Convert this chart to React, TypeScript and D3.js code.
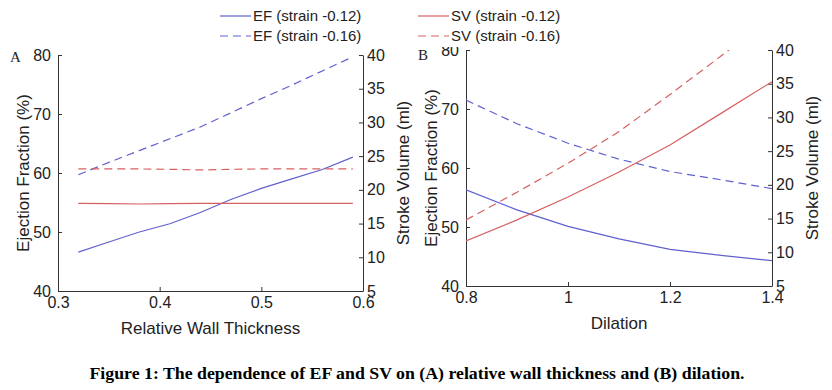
import { useEffect, useRef } from "react";
import * as d3 from "d3";

// panel A: relative wall thickness
const rwt = [0.32, 0.35, 0.38, 0.41, 0.44, 0.47, 0.5, 0.53, 0.56, 0.59];
const efA12 = [46.6, 48.3, 50.0, 51.4, 53.3, 55.5, 57.4, 59.0, 60.6, 62.7];
const efA16 = [59.7, 61.8, 63.8, 65.8, 67.8, 70.2, 72.6, 74.9, 77.3, 79.7];
const svA12 = [18.0, 17.95, 17.9, 17.95, 18.0, 18.0, 18.0, 18.0, 18.0, 18.0];
const svA16 = [23.1, 23.1, 23.1, 23.05, 22.95, 23.05, 23.1, 23.1, 23.1, 23.1];

// panel B: dilation
const dilation = [0.8, 0.9, 1.0, 1.1, 1.2, 1.3, 1.4];
const efB12 = [56.3, 52.9, 50.1, 48.0, 46.2, 45.2, 44.3];
const efB16 = [71.5, 67.5, 64.2, 61.5, 59.4, 58.0, 56.5];
const svB12 = [11.7, 14.8, 18.2, 21.9, 25.9, 30.6, 35.3];
const svB16 = [14.8, 18.9, 23.2, 27.9, 33.4, 39.1, 45.0];

const xTicksA = [0.3, 0.4, 0.5, 0.6];
const xTicksB = [0.8, 1, 1.2, 1.4];
const efTicks = [40, 50, 60, 70, 80];
const svTicks = [5, 10, 15, 20, 25, 30, 35, 40];

const BLUE = "#6060cf";
const RED = "#d66060";
const AXIS = "#333";
const FONT = "'Liberation Sans', Arial, sans-serif";

const legendItems = [
  { label: "EF (strain -0.12)", color: BLUE, dash: null },
  { label: "EF (strain -0.16)", color: BLUE, dash: "8,5" },
  { label: "SV (strain -0.12)", color: RED, dash: null },
  { label: "SV (strain -0.16)", color: RED, dash: "8,5" },
];

const drawPanel = (
  svg: d3.Selection<SVGSVGElement, unknown, null, undefined>,
  opts: {
    id: string;
    left: number;
    top: number;
    width: number;
    height: number;
    xDomain: [number, number];
    xTicks: number[];
    xFormat: (d: number) => string;
    xs: number[];
    ef12: number[];
    ef16: number[];
    sv12: number[];
    sv16: number[];
    xTitle: string;
    letter: string;
    letterDy: number;
  }
) => {
  const { left, top, width, height } = opts;
  const x = d3.scaleLinear().domain(opts.xDomain).range([left, left + width]);
  const yL = d3.scaleLinear().domain([40, 80]).range([top + height, top]);
  const yR = d3.scaleLinear().domain([5, 40]).range([top + height, top]);

  svg
    .append("clipPath")
    .attr("id", opts.id)
    .append("rect")
    .attr("x", left)
    .attr("y", top)
    .attr("width", width)
    .attr("height", height);

  const styleAxis = (g: any) => {
    g.selectAll("path").attr("stroke", AXIS).attr("stroke-width", 1);
    g.selectAll("line").attr("stroke", AXIS);
    g.selectAll("text")
      .attr("fill", "#222")
      .style("font-family", FONT)
      .style("font-size", "16px");
  };

  svg
    .append("g")
    .attr("transform", `translate(0 ${top + height})`)
    .call(
      d3.axisBottom(x).tickValues(opts.xTicks).tickFormat(opts.xFormat as any).tickSizeInner(-4).tickSizeOuter(0).tickPadding(6)
    )
    .call(styleAxis);

  svg
    .append("g")
    .attr("transform", `translate(${left} 0)`)
    .call(d3.axisLeft(yL).tickValues(efTicks).tickSizeInner(-4).tickSizeOuter(0).tickPadding(7))
    .call(styleAxis);

  svg
    .append("g")
    .attr("transform", `translate(${left + width} 0)`)
    .call(d3.axisRight(yR).tickValues(svTicks).tickSizeInner(-4).tickSizeOuter(0).tickPadding(4))
    .call(styleAxis);

  const plot = svg.append("g").attr("clip-path", `url(#${opts.id})`);
  const series = [
    { vals: opts.ef12, y: yL, color: BLUE, dash: null },
    { vals: opts.ef16, y: yL, color: BLUE, dash: "8,5" },
    { vals: opts.sv12, y: yR, color: RED, dash: null },
    { vals: opts.sv16, y: yR, color: RED, dash: "8,5" },
  ];
  series.forEach((s) => {
    const line = d3
      .line<number>()
      .x((_, i) => x(opts.xs[i]))
      .y((d) => s.y(d));
    plot
      .append("path")
      .attr("d", line(s.vals))
      .attr("fill", "none")
      .attr("stroke", s.color)
      .attr("stroke-width", 1.2)
      .attr("stroke-dasharray", s.dash);
  });

  svg
    .append("text")
    .text(opts.xTitle)
    .attr("x", left + width / 2)
    .attr("y", top + height + 43)
    .attr("text-anchor", "middle")
    .attr("fill", "#222")
    .style("font-family", FONT)
    .style("font-size", "17px");

  svg
    .append("text")
    .text("Ejection Fraction (%)")
    .attr("transform", `translate(${left - 29} ${top + height / 2}) rotate(-90)`)
    .attr("text-anchor", "middle")
    .attr("fill", "#222")
    .style("font-family", FONT)
    .style("font-size", "17px");

  svg
    .append("text")
    .text("Stroke Volume (ml)")
    .attr("transform", `translate(${left + width + 46} ${top + height / 2}) rotate(-90)`)
    .attr("text-anchor", "middle")
    .attr("fill", "#222")
    .style("font-family", FONT)
    .style("font-size", "17px");

  svg
    .append("text")
    .text(opts.letter)
    .attr("x", left - 48)
    .attr("y", top + opts.letterDy)
    .attr("fill", "#222")
    .style("font-family", "'Liberation Serif', 'Times New Roman', serif")
    .style("font-size", "15px");
};

const buildChart = (ref: SVGSVGElement) => {
  const svg = d3.select(ref);
  svg.selectAll("*").remove();

  drawPanel(svg, {
    id: "clipA",
    left: 58,
    top: 55,
    width: 305,
    height: 236,
    xDomain: [0.3, 0.6],
    xTicks: xTicksA,
    xFormat: d3.format(".1f"),
    xs: rwt,
    ef12: efA12,
    ef16: efA16,
    sv12: svA12,
    sv16: svA16,
    xTitle: "Relative Wall Thickness",
    letter: "A",
    letterDy: 7,
  });

  drawPanel(svg, {
    id: "clipB",
    left: 466,
    top: 50,
    width: 306,
    height: 236,
    xDomain: [0.8, 1.4],
    xTicks: xTicksB,
    xFormat: (d: number) => (d === 1 ? "1" : d3.format(".1f")(d)),
    xs: dilation,
    ef12: efB12,
    ef16: efB16,
    sv12: svB12,
    sv16: svB16,
    xTitle: "Dilation",
    letter: "B",
    letterDy: 10,
  });

  // legend box sits on top and hides the top of panel B's "80"
  const legend = svg.append("g");
  legend
    .append("rect")
    .attr("x", 212)
    .attr("y", 0)
    .attr("width", 196)
    .attr("height", 46)
    .attr("fill", "white");
  legend
    .append("rect")
    .attr("x", 408)
    .attr("y", 0)
    .attr("width", 157)
    .attr("height", 47)
    .attr("fill", "white");

  legendItems.forEach((item, i) => {
    const col = Math.floor(i / 2);
    const row = i % 2;
    const x0 = col === 0 ? 220 : 418;
    const y0 = 16 + row * 20;
    legend
      .append("line")
      .attr("x1", x0)
      .attr("x2", x0 + 31)
      .attr("y1", y0)
      .attr("y2", y0)
      .attr("stroke", item.color)
      .attr("stroke-width", 1.2)
      .attr("stroke-dasharray", item.dash);
    legend
      .append("text")
      .text(item.label)
      .attr("x", x0 + 33)
      .attr("y", y0 + 5)
      .attr("fill", "#222")
      .style("font-family", FONT)
      .style("font-size", "15px");
  });

  svg
    .append("text")
    .text("Figure 1: The dependence of EF and SV on (A) relative wall thickness and (B) dilation.")
    .attr("x", 417)
    .attr("y", 379)
    .attr("text-anchor", "middle")
    .attr("textLength", 655)
    .attr("lengthAdjust", "spacingAndGlyphs")
    .attr("fill", "#000")
    .style("font-family", "'Liberation Serif', 'Times New Roman', serif")
    .style("font-weight", "bold")
    .style("font-size", "17px");
};

export default function App() {
  const ref = useRef<SVGSVGElement>(null);
  useEffect(() => {
    if (ref.current) buildChart(ref.current);
  }, []);
  return (
    <svg
      ref={ref}
      width={832}
      height={390}
      style={{ position: "absolute", left: 0, top: 0, background: "white" }}
    />
  );
}
